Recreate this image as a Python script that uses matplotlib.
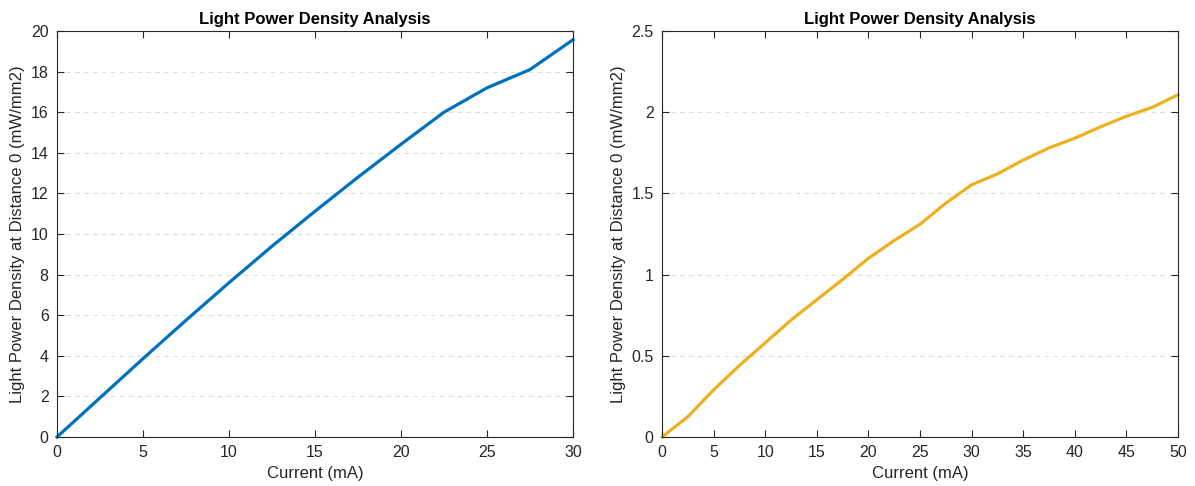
import matplotlib
matplotlib.use("Agg")
import matplotlib.pyplot as plt
import numpy as np

# current steps (mA) and measured densities (mW/mm2)
current_a = [0, 2.5, 5, 7.5, 10, 12.5, 15, 17.5, 20, 22.5, 25, 27.5, 30]
density_a = [0, 1.93, 3.86, 5.75, 7.6, 9.4, 11.12, 12.8, 14.42, 16.0, 17.2, 18.1, 19.57]

current_b = [0, 2.5, 5, 7.5, 10, 12.5, 15, 17.5, 20, 22.5, 25, 27.5, 30,
             32.5, 35, 37.5, 40, 42.5, 45, 47.5, 50]
density_b = [0, 0.125, 0.29, 0.44, 0.58, 0.72, 0.845, 0.97, 1.10, 1.21, 1.31,
             1.44, 1.553, 1.62, 1.705, 1.78, 1.84, 1.91, 1.975, 2.03, 2.107]

plt.rcParams['font.family'] = ['Liberation Sans', 'DejaVu Sans']
dark = '#262626'

fig = plt.figure(figsize=(11.95, 4.86), dpi=100)
ax1 = fig.add_axes([57/1195, 49/486, 516/1195, 406/486])
ax2 = fig.add_axes([662/1195, 49/486, 516/1195, 406/486])


def style(ax, xmax, ymax, ystep):
    ax.set_xlim(0, xmax)
    ax.set_ylim(0, ymax)
    ax.set_xticks(np.arange(0, xmax + 0.01, 5))
    ax.set_yticks(np.arange(0, ymax + 0.001, ystep))
    ax.tick_params(direction='in', top=True, right=True, length=5,
                   width=0.8, colors=dark, labelsize=11.5, pad=6)
    for s in ax.spines.values():
        s.set_color(dark)
        s.set_linewidth(0.8)
    ax.yaxis.grid(True, linestyle=(0, (4, 4)), color='#dcdcdc', linewidth=0.8)
    ax.set_axisbelow(True)
    ax.set_xlabel('Current (mA)', fontsize=12, color=dark, labelpad=4)
    ax.set_ylabel('Light Power Density at Distance 0 (mW/mm2)', fontsize=12,
                  color=dark, labelpad=4)
    ax.set_title('Light Power Density Analysis', fontsize=12, fontweight='bold',
                 pad=5)


ax1.plot(current_a, density_a, color='#0072BD', linewidth=2.3, clip_on=False)
style(ax1, 30, 20, 2)
ax1.set_yticklabels([str(int(v)) for v in np.arange(0, 21, 2)])

ax2.plot(current_b, density_b, color='#EDB120', linewidth=2.3, clip_on=False)
style(ax2, 50, 2.5, 0.5)
ax2.set_yticklabels(['0', '0.5', '1', '1.5', '2', '2.5'])

fig.savefig('out.png', dpi=100)
